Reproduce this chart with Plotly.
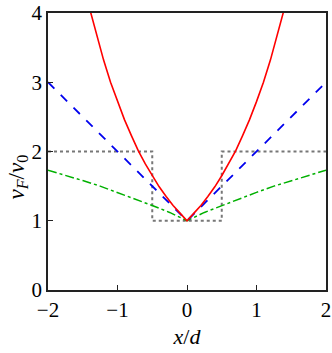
import plotly.graph_objects as go

# curva vermelha (solida)
x_red = [-1.4, -1.3, -1.2, -1.1, -1.0, -0.9, -0.8, -0.7, -0.6, -0.5, -0.4, -0.3, -0.2, -0.1, 0.0,
         0.1, 0.2, 0.3, 0.4, 0.5, 0.6, 0.7, 0.8, 0.9, 1.0, 1.1, 1.2, 1.3, 1.4]
y_red = [4.06, 3.67, 3.32, 3.00, 2.72, 2.46, 2.23, 2.01, 1.82, 1.65, 1.49, 1.35, 1.22, 1.11, 1.00,
         1.11, 1.22, 1.35, 1.49, 1.65, 1.82, 2.01, 2.23, 2.46, 2.72, 3.00, 3.32, 3.67, 4.06]

# curva azul (tracejada)
x_blue = [-2.0, 0.0, 2.0]
y_blue = [3.0, 1.0, 3.0]

# curva verde (traco-ponto)
x_green = [-2.0, -1.75, -1.5, -1.25, -1.0, -0.75, -0.5, -0.25, 0.0,
           0.25, 0.5, 0.75, 1.0, 1.25, 1.5, 1.75, 2.0]
y_green = [1.73, 1.66, 1.58, 1.50, 1.41, 1.32, 1.22, 1.12, 1.00,
           1.12, 1.22, 1.32, 1.41, 1.50, 1.58, 1.66, 1.73]

# degrau cinza (pontilhado)
x_gray = [-2.0, -0.5, -0.5, 0.5, 0.5, 2.0]
y_gray = [2.0, 2.0, 1.0, 1.0, 2.0, 2.0]

fonte = "Liberation Serif"

fig = go.Figure()
fig.add_trace(go.Scatter(x=x_gray, y=y_gray, mode="lines",
                         line=dict(color="#777777", width=2, dash="dot")))
fig.add_trace(go.Scatter(x=x_green, y=y_green, mode="lines",
                         line=dict(color="#00b000", width=1.5, dash="dashdot")))
fig.add_trace(go.Scatter(x=x_blue, y=y_blue, mode="lines",
                         line=dict(color="#0000ee", width=1.8, dash="dash")))
fig.add_trace(go.Scatter(x=x_red, y=y_red, mode="lines",
                         line=dict(color="#ff0000", width=1.6)))

eixo = dict(showgrid=False, zeroline=False, showline=True, linecolor="#222222",
            linewidth=1.5, mirror=True, ticks="inside", ticklen=5, tickwidth=1.2,
            tickcolor="#222222", automargin=False,
            tickfont=dict(family=fonte, size=21, color="black"))

fig.update_layout(
    width=332, height=353,
    margin=dict(l=48, r=6, t=13, b=63),
    plot_bgcolor="white", paper_bgcolor="white",
    font=dict(family=fonte),
    showlegend=False,
    xaxis=dict(range=[-2, 2], tickvals=[-2, -1, 0, 1, 2],
               title=dict(text="<i>x</i>/<i>d</i>", standoff=8,
                          font=dict(family=fonte, size=22, color="black")),
               **eixo),
    yaxis=dict(range=[0, 4], tickvals=[0, 1, 2, 3, 4], **eixo),
)

# titulo do eixo y como anotacao para controlar a posicao
fig.add_annotation(text="<i>v<sub>F</sub></i>/<i>v</i><sub>0</sub>",
                   xref="paper", yref="paper", x=0, y=0.5,
                   xanchor="center", yanchor="middle", xshift=-31, yshift=-26,
                   textangle=-90, showarrow=False,
                   font=dict(family=fonte, size=23, color="black"))

# tirar a margem padrao do body para a figura caber na janela
fig.write_html("out.html", config={"displayModeBar": False},
               post_script="document.body.style.margin='0';")
